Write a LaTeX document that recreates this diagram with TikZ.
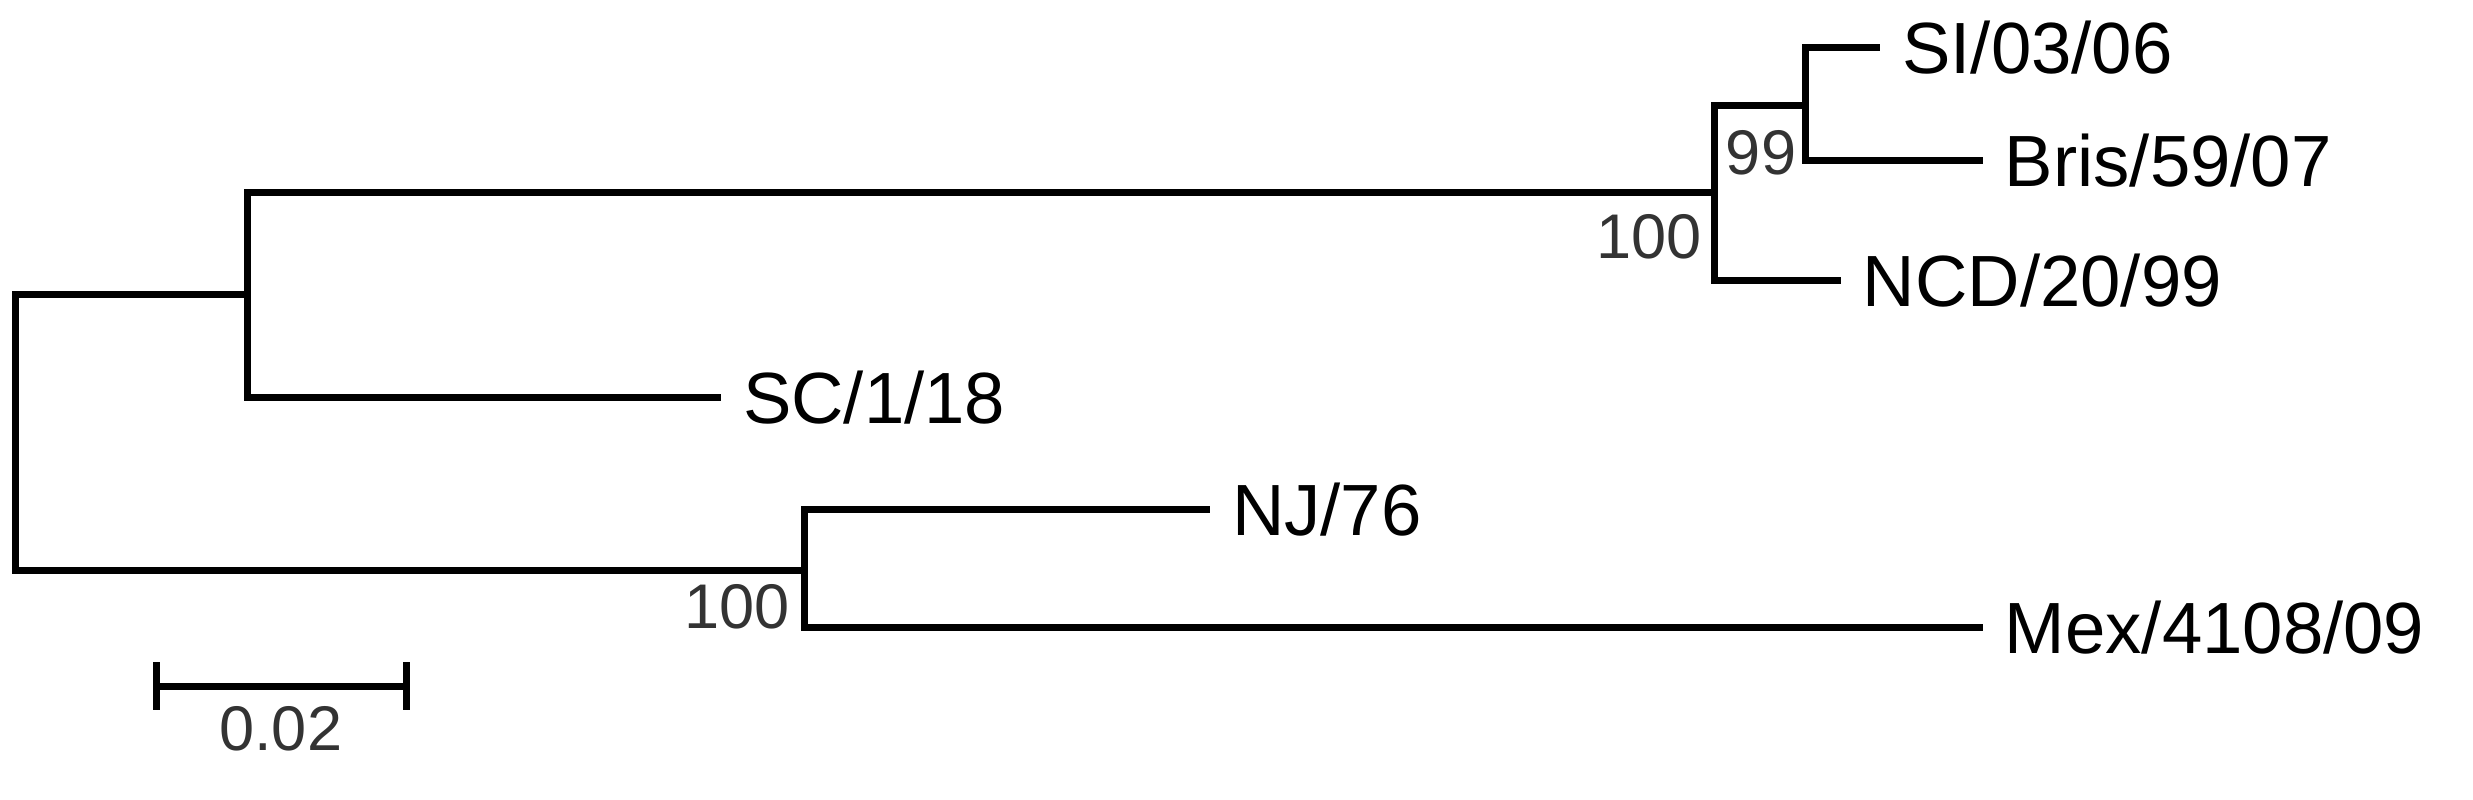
\documentclass[tikz,border=0pt]{standalone}
\usepackage{fontspec}
\setmainfont{Liberation Sans}
\usetikzlibrary{positioning}

\begin{document}
\begin{tikzpicture}[x=1pt,y=-1pt]
  \tikzset{EdgeStyle/.style = {
    draw       = black,
    line width = 4.5pt,
    line cap   = rect
    }
  }
  \tikzset{LeafStyle/.style = {
    anchor     = west,
    inner sep  = 0pt,
    font       = \fontsize{46}{54}\selectfont
    }
  }
  \tikzset{BootStyle/.style = {
    anchor     = east,
    inner sep  = 0pt,
    text       = black!80,
    font       = \fontsize{40}{48}\selectfont
    }
  }
  \useasboundingbox (0,0) rectangle (1568,507);

	\coordinate (R1) at (10, 187);
	\coordinate (R2) at (10, 362);
	\coordinate (A0) at (157, 187);
	\coordinate (A1) at (157, 122);
	\coordinate (A2) at (157, 252);
	\coordinate (B1) at (1087, 67);
	\coordinate (B2) at (1087, 178);
	\coordinate (C1) at (1145, 30);
	\coordinate (C2) at (1145, 102);
	\coordinate (D1) at (510, 323);
	\coordinate (D2) at (510, 398);
	\coordinate (E1) at (1190, 30);
	\coordinate (E2) at (1255, 102);
	\coordinate (E3) at (1165, 178);
	\coordinate (E4) at (455, 252);
	\coordinate (E5) at (765, 323);
	\coordinate (E6) at (1255, 398);
	\coordinate (S1) at (99, 435);
	\coordinate (S2) at (258, 435);

	\node[LeafStyle, right=16pt of E1](L1) {SI/03/06};
	\node[LeafStyle, right=16pt of E2](L2) {Bris/59/07};
	\node[LeafStyle, right=16pt of E3](L3) {NCD/20/99};
	\node[LeafStyle, right=16pt of E4](L4) {SC/1/18};
	\node[LeafStyle, right=16pt of E5](L5) {NJ/76};
	\node[LeafStyle, right=16pt of E6](L6) {Mex/4108/09};

	\draw[EdgeStyle](A0) -- (R1) -- (R2) -- (D1 |- R2);
	\draw[EdgeStyle](B1 |- A1) -- (A1) -- (A2) -- (E4);
	\draw[EdgeStyle](C1 |- B1) -- (B1) -- (B2) -- (E3);
	\draw[EdgeStyle](E1) -- (C1) -- (C2) -- (E2);
	\draw[EdgeStyle](E5) -- (D1) -- (D2) -- (E6);

	\draw[EdgeStyle](S1) -- (S2);
	\draw[EdgeStyle]([yshift=-13pt]S1) -- ([yshift=13pt]S1);
	\draw[EdgeStyle]([yshift=-13pt]S2) -- ([yshift=13pt]S2);
	\node[BootStyle, anchor=north](s0) at (178, 448) {0.02};

	\node[BootStyle](b1) at (1139, 97) {99};
	\node[BootStyle](b2) at (1079, 150) {100};
	\node[BootStyle](b3) at (501, 385) {100};
\end{tikzpicture}
\end{document}
